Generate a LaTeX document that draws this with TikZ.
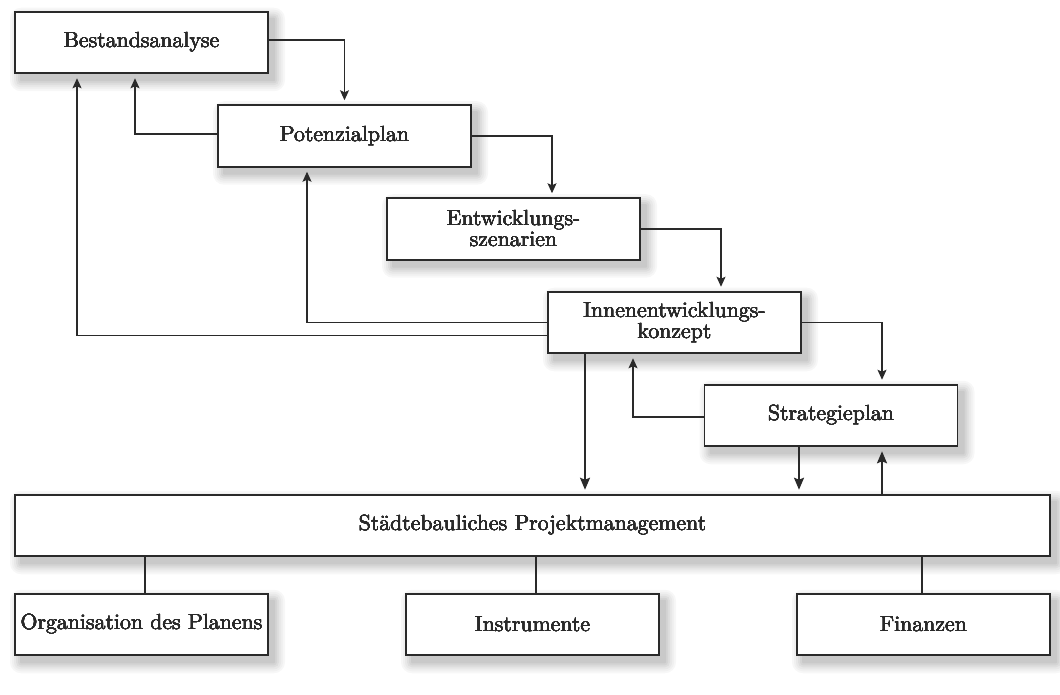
\documentclass[tikz,border=0pt]{standalone}
\usepackage{fontspec}
\usepackage[copies]{contour}
\contourlength{0.05pt}
\contournumber{8}
\newfontfamily\lmheavy{lmroman10-regular}[Extension=.otf]
\usetikzlibrary{arrows.meta,calc,backgrounds}
\definecolor{ink}{HTML}{2A2A2A}
\newcommand\hv[1]{\contour{ink}{#1}}
\tikzset{
  box/.style={draw=ink, line width=0.8pt, fill=white, minimum width=126.5pt, minimum height=30.75pt,
    inner sep=0pt, outer sep=0pt, align=center, font=\lmheavy\fontsize{10.9}{10.5}\selectfont, text=ink},
  flow/.style={draw=ink, line width=0.55pt, -{Stealth[length=5pt,width=4.5pt,inset=1pt]}, shorten >=2.5pt},
  thick flow/.style={draw=ink, line width=1pt, -{Stealth[length=6pt,width=5pt,inset=1pt]}, shorten >=2.5pt},
  link/.style={draw=ink, line width=1pt},
}
\newcommand\boxshade[1]{%
  \foreach \r/\c/\k in {11/3/5.5pt, 9/6/4.5pt, 7/9/3.5pt, 5/13/2.5pt, 3/17/1.5pt, 1/21/0.5pt}{%
    \fill[black!\c, rounded corners=\k] ($(#1.north west)+(6-\r,7-\r)$) rectangle ($(#1.south east)+(6+\r,7+\r)$);}}
\begin{document}
\begin{tikzpicture}[x=0.5pt,y=-0.5pt]
\useasboundingbox (0,0) rectangle (1060,695);
\node[box] (B) at (141.5,42.5) {\hv{Bestandsanalyse}};
\node[box] (P) at (344.5,136) {\hv{Potenzialplan}};
\node[box] (E) at (513.5,229) {\hv{Entwicklungs-}\\\hv{szenarien}};
\node[box] (I) at (674.5,322.5) {\hv{Innenentwicklungs-}\\\hv{konzept}};
\node[box] (S) at (831,415.5) {\hv{Strategieplan}};
\node[box, minimum width=517.5pt] (M) at (532.5,525.5) {\hv{St\"adtebauliches Projektmanagement}};
\node[box] (O) at (141.5,624.5) {\hv{Organisation des Planens}};
\node[box] (N) at (532.5,624.5) {\hv{Instrumente}};
\node[box] (F) at (923.5,624.5) {\hv{Finanzen}};

\begin{scope}[on background layer]
  \foreach \n in {B,P,E,I,S,M,O,N,F}{\boxshade{\n}}
\end{scope}

% forward flow
\draw[flow] ($(B.east)+(0,-2.5)$) -| (P.north);
\draw[flow] (P.east) -| ($(E.north)+(38.5,0)$);
\draw[flow] (E.east) -| ($(I.north)+(46.5,0)$);
\draw[flow] (I.east) -| ($(S.north)+(51,0)$);
% feedback
\draw[flow] ($(P.west)+(0,-2)$) -| ($(B.south)+(-6.5,0)$);
\draw[flow] (I.west) -| ($(P.south)+(-37.5,0)$);
\draw[flow] ($(I.west)+(0,13)$) -| ($(B.south)+(-64.5,0)$);
\draw[flow] ($(S.west)+(0,1.5)$) -| ($(I.south)+(-41.5,0)$);
% to/from project management
\draw[thick flow] ($(I.south)+(-89.5,0)$) -- ($(M.north)+(52.5,0)$);
\draw[thick flow] ($(S.south)+(-32,0)$) -- ($(M.north)+(266.5,0)$);
\draw[thick flow] ($(M.north)+(349.5,0)$) -- ($(S.south)+(51,0)$);
% sub-areas
\draw[link] ($(M.south)+(-387.5,0)$) -- ($(O.north)+(3.5,0)$);
\draw[link] ($(M.south)+(3.5,0)$) -- ($(N.north)+(3.5,0)$);
\draw[link] ($(M.south)+(389.5,0)$) -- ($(F.north)+(-1.5,0)$);
\end{tikzpicture}
\end{document}
